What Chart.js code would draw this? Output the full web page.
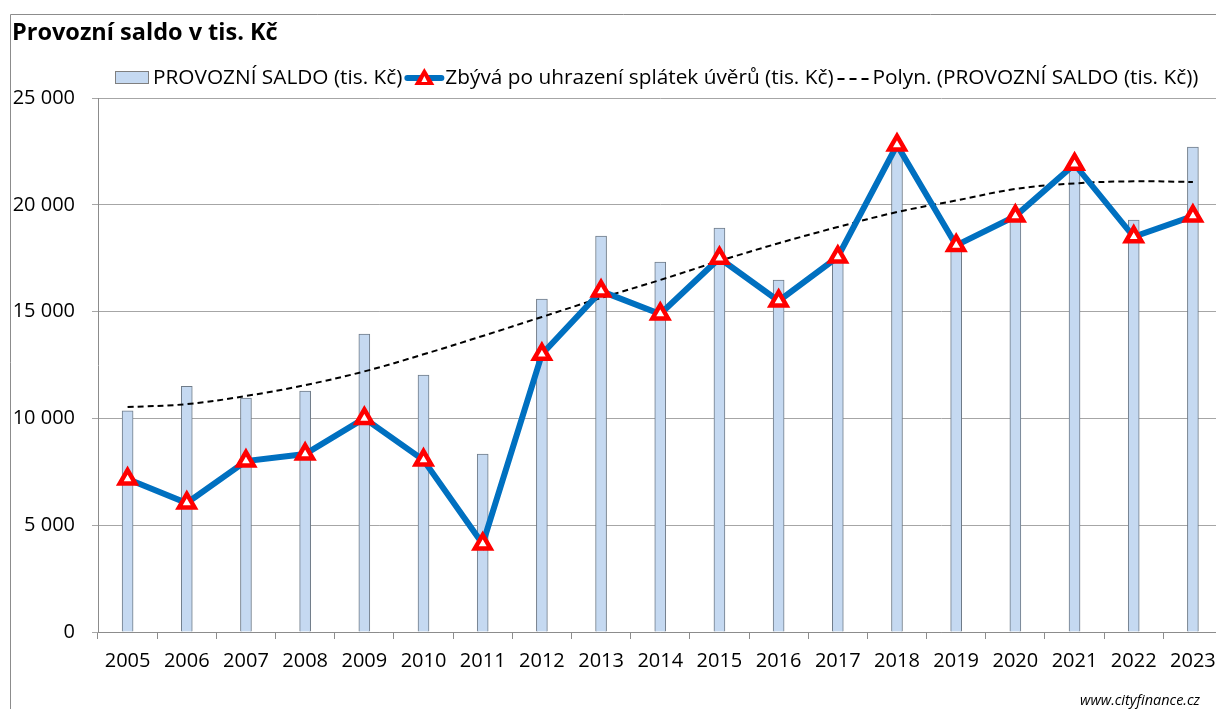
<!DOCTYPE html>
<html>
<head>
<meta charset="utf-8">
<script src="https://cdn.jsdelivr.net/npm/chart.js@4.4.0/dist/chart.umd.min.js"></script>
<style>
    html, body { margin: 0; padding: 0; background: #fff; overflow: hidden; }
    #wrap { width: 1236px; height: 709px; }
</style>
</head>
<body>
<div id="wrap"><canvas id="saldoChart" width="1236" height="709"></canvas></div>
<script>
// data (tis. Kč)
var years = ['2005', '2006', '2007', '2008', '2009', '2010', '2011', '2012', '2013', '2014',
             '2015', '2016', '2017', '2018', '2019', '2020', '2021', '2022', '2023'];
var provozniSaldo = [10350, 11500, 10950, 11280, 13950, 12030, 8330, 15590, 18540, 17320,
                     18910, 16480, 17600, 22800, 18100, 19500, 21900, 19290, 22700];
var zbyvaPoSplatkach = [7160, 6040, 8000, 8330, 10000, 8050, 4120, 13000, 15960, 14890,
                        17500, 15500, 17560, 22800, 18100, 19470, 21900, 18500, 19470];
var polynTrend = [10530, 10670, 11050, 11560, 12200, 13000, 13860, 14750, 15640, 16480,
                  17370, 18200, 18960, 19660, 20200, 20740, 21000, 21100, 21070];
var yTicks = [0, 5000, 10000, 15000, 20000, 25000];

var labelBar = 'PROVOZNÍ SALDO (tis. Kč)';
var labelLine = 'Zbývá po uhrazení splátek úvěrů (tis. Kč)';
var labelTrend = 'Polyn. (PROVOZNÍ SALDO (tis. Kč))';

var FONT = '"Open Sans", "Liberation Sans", sans-serif';

function formatThousands(v) {
    return String(v).replace(/\B(?=(\d{3})+(?!\d))/g, ' ');
}

// title, legend, frame and watermark drawn on top of the chart
var decorPlugin = {
    id: 'decor',
    afterDraw: function (chart) {
        var ctx = chart.ctx;
        ctx.save();

        // outer frame
        ctx.strokeStyle = '#8c8c8c';
        ctx.lineWidth = 1;
        ctx.beginPath();
        ctx.moveTo(10.5, 720);
        ctx.lineTo(10.5, 14.5);
        ctx.lineTo(1300, 14.5);
        ctx.stroke();

        // title
        ctx.fillStyle = '#000';
        ctx.font = 'bold 23.5px ' + FONT;
        ctx.textBaseline = 'middle';
        ctx.textAlign = 'left';
        ctx.fillText('Provozní saldo v tis. Kč', 12, 33);

        // legend
        var y = 78;
        ctx.font = '20.8px ' + FONT;
        var x = 115;
        ctx.fillStyle = '#c5d9f1';
        ctx.fillRect(x + 0.5, y - 6.5, 33, 12);
        ctx.strokeStyle = '#7f7f7f';
        ctx.lineWidth = 1;
        ctx.strokeRect(x + 0.5, y - 6.5, 33, 12);
        x += 38;
        ctx.fillStyle = '#000';
        ctx.fillText(labelBar, x, y);
        x += ctx.measureText(labelBar).width + 3;

        ctx.strokeStyle = '#0070c0';
        ctx.lineWidth = 6;
        ctx.lineCap = 'round';
        ctx.beginPath();
        ctx.moveTo(x + 2, y);
        ctx.lineTo(x + 36, y);
        ctx.stroke();
        ctx.lineCap = 'butt';
        var cx = x + 19;
        ctx.fillStyle = '#ff0000';
        ctx.beginPath();
        ctx.moveTo(cx, y - 10);
        ctx.lineTo(cx + 10, y + 7);
        ctx.lineTo(cx - 10, y + 7);
        ctx.closePath();
        ctx.fill();
        ctx.fillStyle = '#fff';
        ctx.beginPath();
        ctx.moveTo(cx, y - 2);
        ctx.lineTo(cx + 3, y + 4);
        ctx.lineTo(cx - 3, y + 4);
        ctx.closePath();
        ctx.fill();
        x += 40;
        ctx.fillStyle = '#000';
        ctx.fillText(labelLine, x, y);
        x += ctx.measureText(labelLine).width + 4;

        ctx.strokeStyle = '#000';
        ctx.lineWidth = 2;
        ctx.setLineDash([7, 5]);
        ctx.beginPath();
        ctx.moveTo(x, y + 1);
        ctx.lineTo(x + 32, y + 1);
        ctx.stroke();
        ctx.setLineDash([]);
        x += 35;
        ctx.fillText(labelTrend, x, y);

        // watermark
        ctx.font = 'italic 14.5px ' + FONT;
        ctx.textAlign = 'right';
        ctx.fillText('www.cityfinance.cz', 1200, 701);

        ctx.restore();
    }
};

var ctx = document.getElementById('saldoChart').getContext('2d');
var saldoChart = new Chart(ctx, {
    type: 'bar',
    data: {
        labels: years,
        datasets: [
            {
                type: 'line',
                label: labelLine,
                data: zbyvaPoSplatkach,
                borderColor: '#0070c0',
                borderWidth: 6,
                pointStyle: 'triangle',
                pointRadius: 9,
                pointBorderWidth: 4.5,
                pointBackgroundColor: '#ffffff',
                pointBorderColor: '#ff0000',
                order: 0
            },
            {
                type: 'line',
                label: labelTrend,
                data: polynTrend,
                borderColor: '#000000',
                borderWidth: 2,
                borderDash: [6, 4],
                pointRadius: 0,
                tension: 0.4,
                order: 1
            },
            {
                label: labelBar,
                data: provozniSaldo,
                backgroundColor: '#c5d9f1',
                borderColor: '#6f7b88',
                borderWidth: 1,
                barThickness: 11,
                order: 2
            }
        ]
    },
    options: {
        responsive: false,
        animation: false,
        layout: { padding: { top: 98, right: 3, left: 0, bottom: 0 } },
        plugins: {
            legend: { display: false },
            tooltip: { enabled: false }
        },
        scales: {
            x: {
                offset: true,
                grid: {
                    offset: true,
                    drawOnChartArea: false,
                    drawTicks: true,
                    tickLength: 7,
                    color: '#8c8c8c'
                },
                border: { color: '#8c8c8c', width: 1 },
                ticks: {
                    color: '#000',
                    font: { family: FONT, size: 20 },
                    padding: 10,
                    maxRotation: 0
                },
                afterFit: function (scale) { scale.height = 77; }
            },
            y: {
                min: 0,
                max: 25000,
                afterBuildTicks: function (scale) {
                    scale.ticks = yTicks.map(function (v) { return { value: v }; });
                },
                grid: {
                    color: '#a6a6a6',
                    tickLength: 6
                },
                border: { color: '#8c8c8c', width: 1 },
                ticks: {
                    color: '#000',
                    font: { family: FONT, size: 20 },
                    padding: 17,
                    callback: function (v) { return formatThousands(v); }
                },
                afterFit: function (scale) { scale.width = 98; }
            }
        }
    },
    plugins: [decorPlugin]
});
</script>
</body>
</html>
